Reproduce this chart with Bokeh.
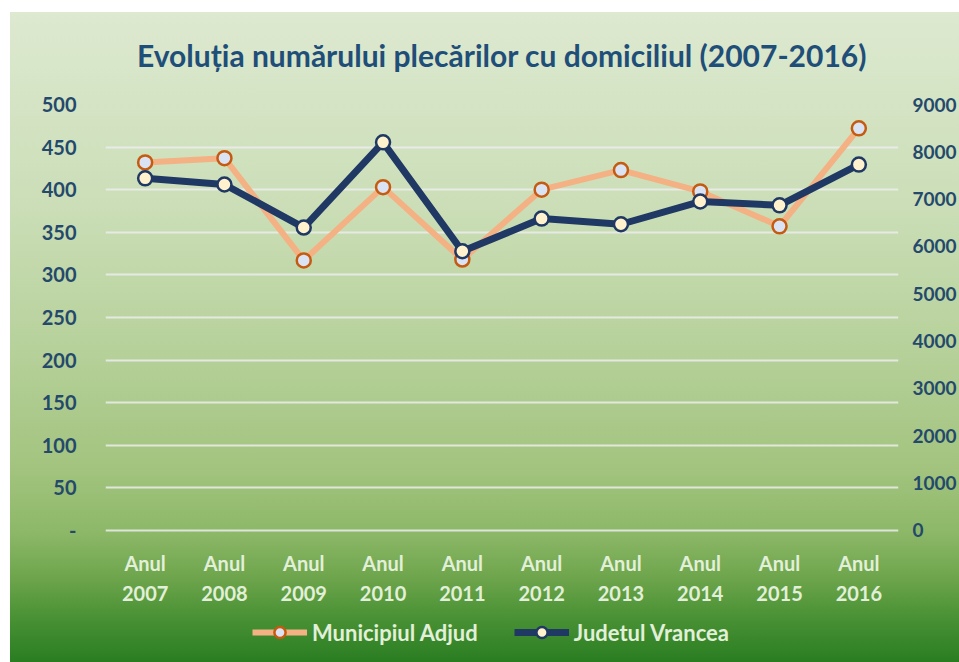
from bokeh.plotting import figure
from bokeh.models import (ColumnDataSource, Range1d, LinearAxis, FixedTicker,
                          Legend, LegendItem, FactorRange)
from bokeh.embed import file_html
from bokeh.resources import INLINE

# ---- data ----
years = ["2007", "2008", "2009", "2010", "2011", "2012", "2013", "2014", "2015", "2016"]
categories = ["Anul\n" + y for y in years]
adjud = [432, 437, 317, 403, 318, 400, 423, 398, 357, 472]
vrancea = [7440, 7310, 6400, 8200, 5900, 6590, 6470, 6950, 6870, 7730]
left_ticks = [0, 50, 100, 150, 200, 250, 300, 350, 400, 450, 500]
right_ticks = [0, 1000, 2000, 3000, 4000, 5000, 6000, 7000, 8000, 9000]
series_names = ["Municipiul Adjud", "Judetul Vrancea"]
title_text = "Evoluția numărului plecărilor cu domiciliul (2007-2016)"

# axis scale: left max 500, right max 9000; the frame extends below zero
# so that the x labels and the legend sit inside it
LEFT_MAX = 500
RIGHT_MAX = 9000
BELOW_ZERO = 155  # left-axis units of empty space under the zero line
ratio = RIGHT_MAX / LEFT_MAX

src = ColumnDataSource(data=dict(cat=categories, adjud=adjud, vrancea=vrancea))

FONT = "Lato"
TICK_COLOR = "#24496b"

p = figure(width=959, height=662, x_range=FactorRange(*categories),
           y_range=Range1d(-BELOW_ZERO, LEFT_MAX), output_backend="svg",
           toolbar_location=None, title=title_text)
p.extra_y_ranges = {"right": Range1d(-BELOW_ZERO * ratio, RIGHT_MAX)}

p.border_fill_color = None
p.background_fill_color = None
p.outline_line_color = None
p.styles = {
    "background": ("linear-gradient(to bottom, #dde9d0 0%, #cbdeb7 30%, #b8d29d 50%, "
                   "#a3c47f 70%, #8db868 80%, #6ea54c 87%, #4a9235 93%, #2a7d22 100%) "
                   "10px 12px / calc(100% - 10px) calc(100% - 12px) no-repeat, #ffffff"),
}

p.min_border_left = 105
p.min_border_right = 59
p.min_border_top = 104
p.min_border_bottom = 0

# title
p.title.text_font = FONT
p.title.text_font_style = "bold"
p.title.text_font_size = "30px"
p.title.text_color = "#1f4e79"
p.title.align = "center"
p.title.standoff = 30
p.title.padding = 17

# grid
p.xgrid.grid_line_color = None
p.ygrid.ticker = FixedTicker(ticks=left_ticks)
p.ygrid.grid_line_color = "#ececec"
p.ygrid.grid_line_alpha = 0.85
p.ygrid.grid_line_width = 2


def style_axis(ax, size, color, standoff):
    ax.axis_line_color = None
    ax.major_tick_line_color = None
    ax.minor_tick_line_color = None
    ax.major_tick_out = 0
    ax.major_tick_in = 0
    ax.minor_tick_out = 0
    ax.minor_tick_in = 0
    ax.major_label_text_font = FONT
    ax.major_label_text_font_style = "bold"
    ax.major_label_text_font_size = size
    ax.major_label_text_color = color
    ax.major_label_standoff = standoff


# left axis
ya = p.yaxis[0]
ya.ticker = FixedTicker(ticks=left_ticks)
ya.major_label_overrides = {0: "-"}
style_axis(ya, "20px", TICK_COLOR, 29)

# right axis
ra = LinearAxis(y_range_name="right", ticker=FixedTicker(ticks=right_ticks))
style_axis(ra, "19px", TICK_COLOR, 14)
p.add_layout(ra, "right")

# x axis drawn at the zero line
xa = p.xaxis[0]
xa.fixed_location = 0
style_axis(xa, "20px", "#e2f0d9", 21)
xa.major_label_text_line_height = 1.22

# series
l1 = p.line("cat", "adjud", source=src, line_color="#f4b183", line_width=6)
m1 = p.scatter("cat", "adjud", source=src, size=14, fill_color="#dae3f3",
               line_color="#c55a11", line_width=2.5)
l2 = p.line("cat", "vrancea", source=src, y_range_name="right",
            line_color="#203864", line_width=7)
m2 = p.scatter("cat", "vrancea", source=src, y_range_name="right", size=14,
               fill_color="#fff2cc", line_color="#203864", line_width=2.5)

legend = Legend(items=[LegendItem(label=series_names[0], renderers=[l1, m1]),
                       LegendItem(label=series_names[1], renderers=[l2, m2])],
                orientation="horizontal", location=(147, 16))
legend.background_fill_alpha = 0
legend.border_line_color = None
legend.label_text_font = FONT
legend.label_text_font_style = "bold"
legend.label_text_font_size = "22px"
legend.label_text_color = "#e2f0d9"
legend.glyph_width = 55
legend.glyph_height = 28
legend.label_standoff = 5
legend.spacing = 36
legend.margin = 0
legend.padding = 4
p.add_layout(legend, "center")

open("out.html", "w").write(file_html(p, INLINE))
